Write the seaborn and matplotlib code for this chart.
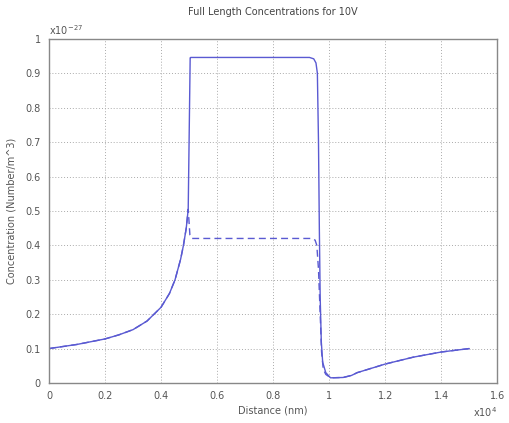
import matplotlib
matplotlib.use("Agg")
import matplotlib.pyplot as plt
import seaborn as sns
import pandas as pd
import numpy as np

# distance in nm, concentration in units of 1e-27 Number/m^3
x_solid = [0, 1000, 2000, 2500, 3000, 3500, 4000, 4300, 4500, 4700, 4800, 4900, 4970,
           5040, 5060, 7000, 9300, 9450, 9530, 9580, 9620, 9650, 9680, 9720, 9770, 9880,
           10050, 10500, 10800, 11000, 12000, 13000, 14000, 15000]
y_solid = [0.100, 0.112, 0.128, 0.140, 0.155, 0.180, 0.220, 0.260, 0.300, 0.360, 0.400, 0.450, 0.505,
           0.945, 0.946, 0.946, 0.946, 0.942, 0.930, 0.900, 0.700, 0.450, 0.250, 0.120, 0.060, 0.030,
           0.015, 0.016, 0.022, 0.030, 0.055, 0.075, 0.090, 0.100]

x_dash = [0, 1000, 2000, 2500, 3000, 3500, 4000, 4300, 4500, 4700, 4800, 4900, 4970,
          5030, 5100, 7000, 9400, 9500, 9560, 9620, 9680, 9730, 9790, 9880,
          10050, 10500, 10800, 11000, 12000, 13000, 14000, 15000]
y_dash = [0.100, 0.112, 0.128, 0.140, 0.155, 0.180, 0.220, 0.260, 0.300, 0.360, 0.400, 0.450, 0.505,
          0.430, 0.420, 0.420, 0.420, 0.415, 0.400, 0.330, 0.200, 0.090, 0.040, 0.025,
          0.015, 0.016, 0.022, 0.030, 0.055, 0.075, 0.090, 0.100]

x_ticks = [0, 0.2, 0.4, 0.6, 0.8, 1, 1.2, 1.4, 1.6]
y_ticks = [0, 0.1, 0.2, 0.3, 0.4, 0.5, 0.6, 0.7, 0.8, 0.9, 1]

sns.set_style("white")
plt.rcParams['font.family'] = ['DejaVu Sans']

fig = plt.figure(figsize=(5.1, 4.23), dpi=100)
ax = fig.add_axes([0.096, 0.0946, 0.879, 0.8135])

col = "#5a5ad2"
df_s = pd.DataFrame({"x": np.array(x_solid) / 1e4, "y": y_solid})
df_d = pd.DataFrame({"x": np.array(x_dash) / 1e4, "y": y_dash})
sns.lineplot(data=df_d, x="x", y="y", ax=ax, color=col, lw=1.0, linestyle=(0, (5, 3)), sort=False)
sns.lineplot(data=df_s, x="x", y="y", ax=ax, color=col, lw=1.0, sort=False)

ax.set_xlim(0, 1.6)
ax.set_ylim(0, 1)
ax.set_xticks(x_ticks)
ax.set_yticks(y_ticks)
fmt = lambda v: ("%g" % v)
ax.set_xticklabels([fmt(v) for v in x_ticks])
ax.set_yticklabels([fmt(v) for v in y_ticks])
ax.grid(True, linestyle=(0, (1, 2)), color="#aaaaaa", lw=0.7)
for s in ax.spines.values():
    s.set_color("#888888")
    s.set_linewidth(1.0)
tc = "#555555"
ax.tick_params(labelsize=7, colors=tc, length=0, pad=6)
ax.set_xlabel("Distance (nm)", fontsize=7, color=tc, labelpad=3)
ax.set_ylabel("Concentration (Number/m^3)", fontsize=7, color=tc, labelpad=6)
ax.set_title("Full Length Concentrations for 10V", fontsize=7, color="#444444", pad=17)
ax.text(0.0, 1.005, r"x10$^{-27}$", transform=ax.transAxes, fontsize=7, color=tc, ha="left", va="bottom")
ax.text(1.0, -0.065, r"x10$^{4}$", transform=ax.transAxes, fontsize=7, color=tc, ha="right", va="top")

fig.savefig("out.png", dpi=100)
